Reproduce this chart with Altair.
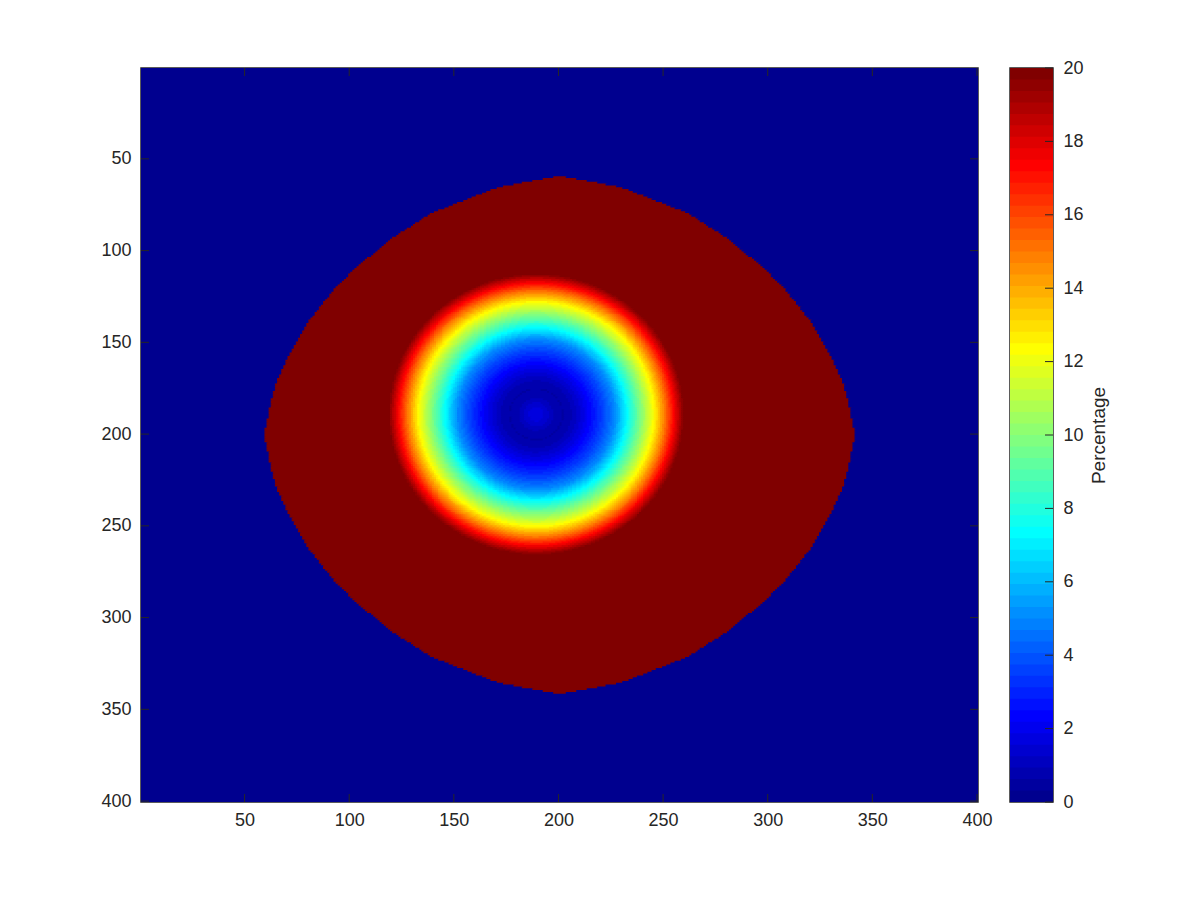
import numpy as np
import pandas as pd
import altair as alt

alt.data_transformers.disable_max_rows()

# ---- values ----
# outer lens (dark red region): half-height vs horizontal distance from the image centre (200.5)
lens_dx = [0.0, 28.8, 52.7, 62.2, 79.7, 97.3, 108.4, 121.1, 129.1, 135.0, 137.9, 139.8, 141.1]
lens_hh = [141.1, 135.2, 124.8, 120.3, 107.5, 91.2, 78.5, 60.3, 44.0, 29.5, 18.5, 7.6, 0.5]
lens_center = [200.5, 200.5]

# inner crater: centre, semi-axes (x, y) and radial profile of the percentage
ring_center = [189.3, 189.2]
ring_semi = [70.7, 76.8]
ring_rho = [0.0, 0.06, 0.12, 0.18, 0.25, 0.32, 0.38, 0.45, 0.53, 0.62, 0.71, 0.80, 0.87, 0.934, 1.0]
ring_pct = [1.9, 1.5, 0.9, 0.6, 1.0, 1.8, 2.6, 3.6, 5.0, 7.5, 10.0, 12.5, 15.0, 17.5, 20.0]

grid_n = 400
x_ticks = [50, 100, 150, 200, 250, 300, 350, 400]
y_ticks = [50, 100, 150, 200, 250, 300, 350, 400]
cbar_ticks = [0, 2, 4, 6, 8, 10, 12, 14, 16, 18, 20]
clim = [0, 20]
n_colors = 64


def jet(m):
    n = int(np.ceil(m / 4))
    u = np.concatenate([np.arange(1, n + 1) / n, np.ones(n - 1), np.arange(n, 0, -1) / n])
    g = int(np.ceil(n / 2)) - (1 if m % 4 == 1 else 0) + np.arange(1, len(u) + 1)
    J = np.zeros((m, 3))
    for idx, col in ((g + n, 0), (g, 1), (g - n, 2)):
        ok = (idx >= 1) & (idx <= m)
        J[idx[ok] - 1, col] = u[ok]
    return ["#%02x%02x%02x" % tuple(int(round(v * 255)) for v in row) for row in J]


colors = jet(n_colors)

# ---- build the image (run-length encoded rows) ----
xs = np.arange(1, grid_n + 1)
X, Y = np.meshgrid(xs, xs)
half = np.interp(np.abs(X - lens_center[0]), lens_dx, lens_hh, right=-1.0)
inside = np.abs(Y - lens_center[1]) <= half
rho = np.hypot((X - ring_center[0]) / ring_semi[0], (Y - ring_center[1]) / ring_semi[1])
pct = np.interp(rho, ring_rho, ring_pct)
field = np.where(inside, pct, 0.0)
level = np.clip(np.floor((field - clim[0]) / (clim[1] - clim[0]) * n_colors), 0, n_colors - 1).astype(int)

overlap = 0.6  # small forward overlap so that adjacent cells leave no seams
rows = []
for i, yv in enumerate(xs):
    lv = level[i]
    starts = np.r_[0, np.flatnonzero(np.diff(lv)) + 1]
    ends = np.r_[starts[1:], len(lv)]
    for s, e in zip(starts, ends):
        rows.append((xs[s] - 0.5, min(xs[e - 1] + 0.5 + overlap, grid_n + 0.5),
                     yv - 0.5, min(yv + 0.5 + overlap, grid_n + 0.5), int(lv[s])))
img = pd.DataFrame(rows, columns=["x", "x2", "y", "y2", "level"])

W, H = 837, 734
lo, hi = 0.5, grid_n + 0.5
tick_px = 8
tly = tick_px * (hi - lo) / H
tlx = tick_px * (hi - lo) / W
FONT = "Liberation Sans"
INK = "#262626"

xscale = alt.Scale(domain=[lo, hi], nice=False, zero=False)
yscale = alt.Scale(domain=[lo, hi], nice=False, zero=False, reverse=True)
cscale = alt.Scale(domain=list(range(n_colors)), range=colors)

xaxis = alt.Axis(values=x_ticks, title=None, labelPadding=9, labelFlush=False)
yaxis = alt.Axis(values=y_ticks, title=None, labelPadding=10, labelFlush=False)

heat = alt.Chart(img).mark_rect(strokeWidth=0).encode(
    x=alt.X("x:Q", scale=xscale, axis=xaxis),
    x2="x2:Q",
    y=alt.Y("y:Q", scale=yscale, axis=yaxis),
    y2="y2:Q",
    color=alt.Color("level:O", scale=cscale, legend=None),
)

tx = pd.DataFrame({"x": x_ticks})
ty = pd.DataFrame({"y": y_ticks})
tick_style = dict(color=INK, strokeWidth=1)

bottom = alt.Chart(tx).mark_rule(**tick_style).encode(
    x=alt.X("x:Q", scale=xscale, axis=xaxis),
    y=alt.Y("y:Q", scale=yscale, axis=yaxis), y2="y2:Q",
).transform_calculate(y=f"{hi}", y2=f"{hi - tly}")
top = alt.Chart(tx).mark_rule(**tick_style).encode(
    x=alt.X("x:Q", scale=xscale, axis=xaxis),
    y=alt.Y("y:Q", scale=yscale, axis=yaxis), y2="y2:Q",
).transform_calculate(y=f"{lo}", y2=f"{lo + tly}")
left = alt.Chart(ty).mark_rule(**tick_style).encode(
    y=alt.Y("y:Q", scale=yscale, axis=yaxis),
    x=alt.X("x:Q", scale=xscale, axis=xaxis), x2="x2:Q",
).transform_calculate(x=f"{lo}", x2=f"{lo + tlx}")
right = alt.Chart(ty).mark_rule(**tick_style).encode(
    y=alt.Y("y:Q", scale=yscale, axis=yaxis),
    x=alt.X("x:Q", scale=xscale, axis=xaxis), x2="x2:Q",
).transform_calculate(x=f"{hi}", x2=f"{hi - tlx}")

main = alt.layer(heat, bottom, top, left, right).properties(width=W, height=H)

# ---- colorbar ----
CW = 43
band = (clim[1] - clim[0]) / n_colors
cb = pd.DataFrame({"level": list(range(n_colors))})
cb["lo"] = clim[0] + cb["level"] * band
cb["hi"] = np.minimum(clim[0] + (cb["level"] + 1) * band + 0.3 * band, clim[1])
cscale_y = alt.Scale(domain=clim, nice=False, zero=False)
caxis = alt.Axis(values=cbar_ticks, orient="right", title="Percentage", labelPadding=10,
                 titleAngle=270, titleBaseline="top", titlePadding=6, titleFontSize=19,
                 titleFontWeight="normal", labelFlush=False)
cbar_rects = alt.Chart(cb).mark_rect(strokeWidth=0).encode(
    x=alt.value(0), x2=alt.value(CW),
    y=alt.Y("lo:Q", scale=cscale_y, axis=caxis), y2="hi:Q",
    color=alt.Color("level:O", scale=cscale, legend=None),
)
cbar_ticks_layer = alt.Chart(pd.DataFrame({"lo": cbar_ticks})).mark_rule(**tick_style).encode(
    x=alt.value(CW - tick_px), x2=alt.value(CW),
    y=alt.Y("lo:Q", scale=cscale_y, axis=caxis),
)
cbar = alt.layer(cbar_rects, cbar_ticks_layer).properties(width=CW, height=H)

chart = alt.hconcat(main, cbar, spacing=16).properties(
    padding={"left": 92, "top": 50, "right": 10, "bottom": 10},
    background="white",
).configure_view(
    stroke=INK, strokeWidth=1.5
).configure_axis(
    labelFont=FONT, labelFontSize=18, labelColor=INK,
    titleFont=FONT, titleColor=INK,
    ticks=False, domain=False, grid=False, labelOverlap=False,
)

chart.save("out.html", embed_options={"renderer": "svg", "actions": False})
